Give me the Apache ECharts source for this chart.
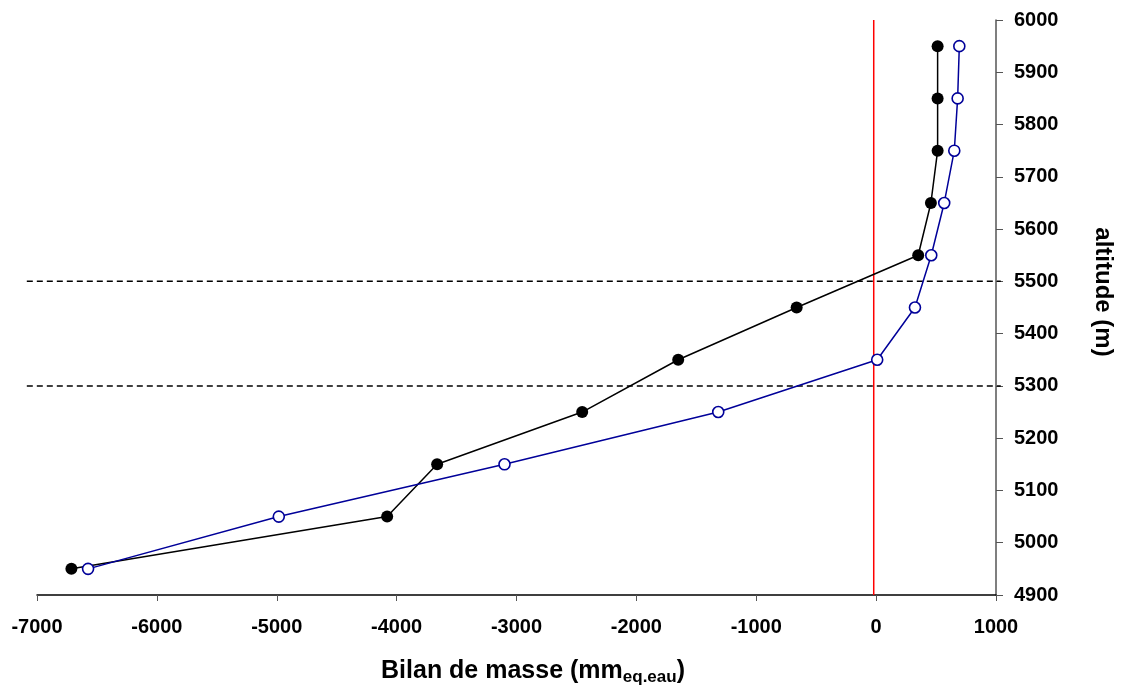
<!DOCTYPE html>
<html>
<head>
<meta charset="utf-8">
<script src="https://cdn.jsdelivr.net/npm/echarts@6/dist/echarts.min.js"></script>
<style>
html,body{margin:0;padding:0;background:#fff;}
#chart{width:1124px;height:686px;}
</style>
</head>
<body>
<div id="chart"></div>
<script>
// Data
const altitudes = [4950, 5050, 5150, 5250, 5350, 5450, 5550, 5650, 5750, 5850, 5950];
const bilanFilled = [-6713, -4079, -3662, -2452, -1651, -663, 351, 457, 513, 513, 513];
const bilanOpen = [-6574, -4983, -3100, -1317, 9, 324, 460, 568, 652, 680, 694];
const refAltitudes = [5500, 5300];
const refLineXRange = [-7085, 1040];
const zeroLineX = -20;
const xTicks = {min: -7000, max: 1000, interval: 1000};
const yTicks = {min: 4900, max: 6000, interval: 100};

const FONT = '"Liberation Sans", Arial, sans-serif';

const chart = echarts.init(document.getElementById('chart'), null, {renderer: 'canvas'});

const pairs = (xs, ys) => xs.map((v, i) => [v, ys[i]]);

const series = [];
series.push({
  type: 'custom',
  clip: false,
  silent: true,
  data: refAltitudes.map(a => [a]),
  encode: {y: 0},
  renderItem: function (params, api) {
    const a = api.value(0);
    const p1 = api.coord([refLineXRange[0], a]);
    const p2 = api.coord([refLineXRange[1], a]);
    return {
      type: 'line',
      shape: {x1: p1[0], y1: p1[1], x2: p2[0], y2: p2[1]},
      style: {stroke: '#000', lineWidth: 1.5, lineDash: [6, 4]}
    };
  },
  z: 1
});
series.push({
  type: 'line',
  data: [[zeroLineX, yTicks.min], [zeroLineX, yTicks.max]],
  symbol: 'none',
  silent: true,
  lineStyle: {color: '#ff0000', width: 1.5},
  z: 1
});
series.push({
  type: 'line',
  data: pairs(bilanFilled, altitudes),
  symbol: 'circle',
  symbolSize: 12,
  itemStyle: {color: '#000', borderColor: '#000', borderWidth: 0},
  lineStyle: {color: '#000', width: 1.5},
  z: 3
});
series.push({
  type: 'line',
  data: pairs(bilanOpen, altitudes),
  symbol: 'circle',
  symbolSize: 11,
  itemStyle: {color: '#fff', borderColor: '#000099', borderWidth: 1.6},
  lineStyle: {color: '#000099', width: 1.5},
  z: 4
});

chart.setOption({
  animation: false,
  backgroundColor: '#fff',
  grid: {left: 37, right: 128, top: 20, bottom: 91, containLabel: false},
  xAxis: {
    type: 'value',
    min: xTicks.min, max: xTicks.max, interval: xTicks.interval,
    axisLine: {show: true, onZero: false, lineStyle: {color: '#000', width: 1.5}},
    axisTick: {show: true, length: 6, lineStyle: {color: '#555', width: 1}},
    axisLabel: {color: '#000', fontFamily: FONT, fontWeight: 'bold', fontSize: 20, margin: 22,
      formatter: v => String(v)},
    splitLine: {show: false}
  },
  yAxis: {
    type: 'value',
    position: 'right',
    min: yTicks.min, max: yTicks.max, interval: yTicks.interval,
    axisLine: {show: true, onZero: false, lineStyle: {color: '#555', width: 1.5}},
    axisTick: {show: true, length: 7, lineStyle: {color: '#555', width: 1}},
    axisLabel: {color: '#000', fontFamily: FONT, fontWeight: 'bold', fontSize: 20, margin: 18,
      formatter: v => String(v)},
    splitLine: {show: false}
  },
  graphic: [{
    type: 'text',
    x: 533, y: 671,
    style: {
      text: '{a|Bilan de masse (mm}{b|eq.eau}{a|)}',
      align: 'center',
      verticalAlign: 'middle',
      rich: {
        a: {fontFamily: FONT, fontWeight: 'bold', fontSize: 25, lineHeight: 30, verticalAlign: 'middle', fill: '#000'},
        b: {fontFamily: FONT, fontWeight: 'bold', fontSize: 17, lineHeight: 30, verticalAlign: 'bottom', fill: '#000'}
      }
    }
  }, {
    type: 'text',
    x: 1103, y: 292,
    rotation: -Math.PI / 2,
    style: {
      text: 'altitude (m)',
      align: 'center',
      verticalAlign: 'middle',
      fontFamily: FONT, fontWeight: 'bold', fontSize: 24, fill: '#000'
    }
  }],
  series: series
});
</script>
</body>
</html>
